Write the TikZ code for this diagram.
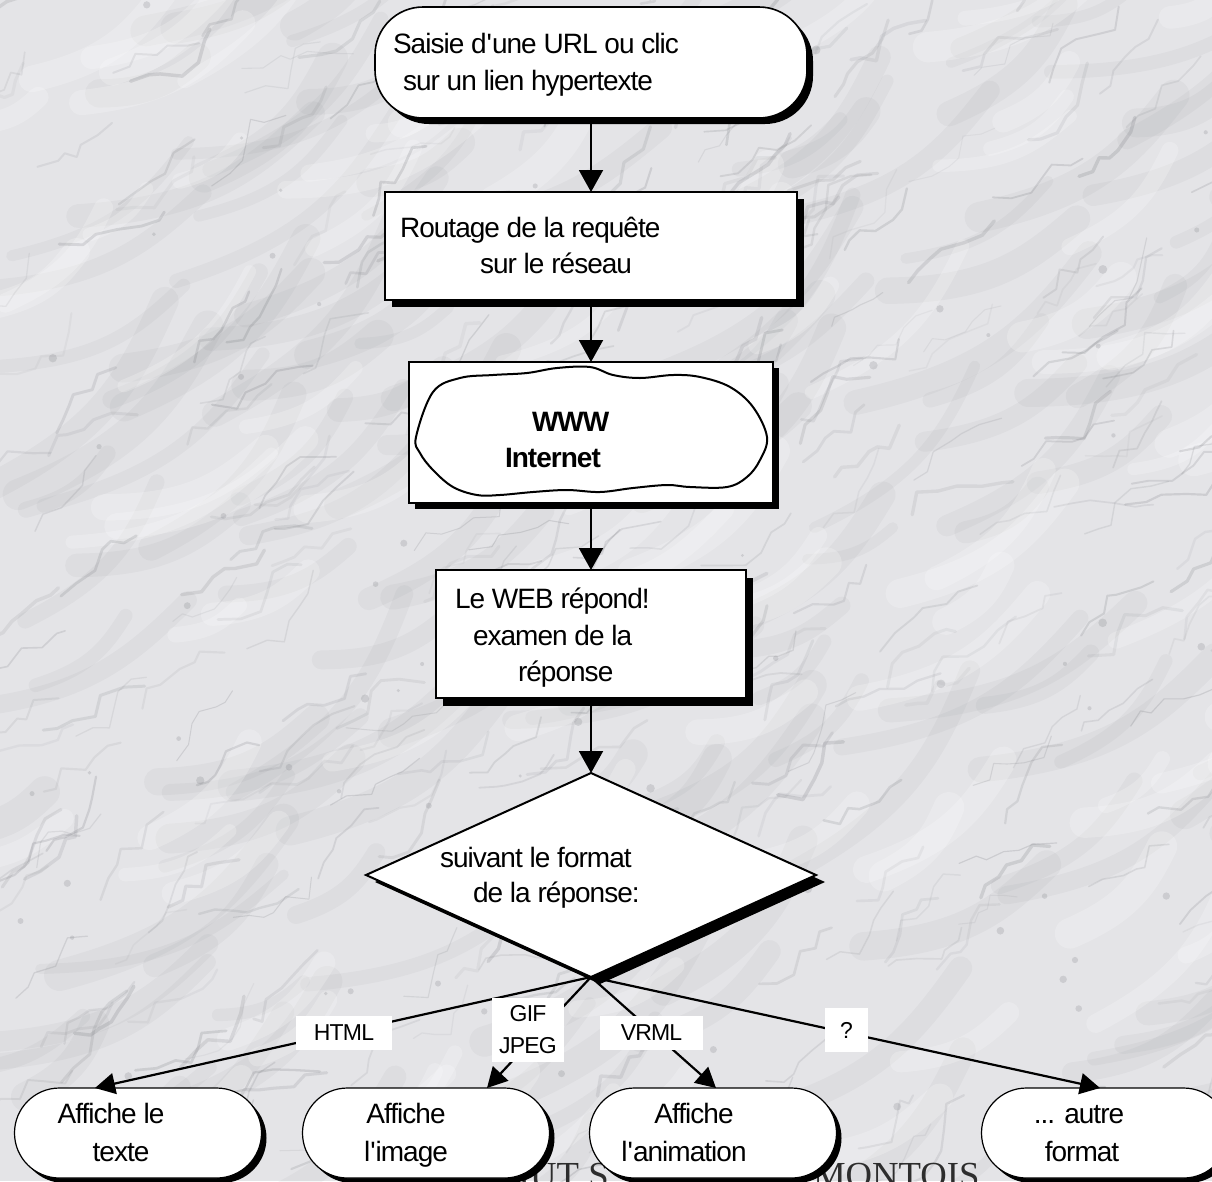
\documentclass[tikz,border=0pt]{standalone}
\usepackage{fontspec}
\setmainfont{Liberation Sans}
\newfontfamily\tightfont[LetterSpace=-3.5]{Liberation Sans}
\newfontfamily\seriffont{Liberation Serif}
\usetikzlibrary{arrows.meta,shapes.geometric,shadows}
\definecolor{marblebase}{RGB}{228,228,231}
\definecolor{veingray}{RGB}{110,112,118}
\definecolor{footgray}{RGB}{45,45,45}

\begin{document}
\begin{tikzpicture}[x=1pt,y=-1pt,
  every node/.style={outer sep=0pt},
  txt/.style={font=\tightfont\fontsize{28}{37}\selectfont, inner sep=0pt, anchor=base west},
  txtc/.style={font=\tightfont\fontsize{28}{37}\selectfont, inner sep=0pt, anchor=base},
  txtb/.style={font=\tightfont\bfseries\fontsize{28}{37}\selectfont, inner sep=0pt, anchor=base west},
  dsh/.style 2 args={drop shadow={shadow xshift=#1, shadow yshift=-#2, fill=black, opacity=1}},
  box/.style={draw, fill=white, inner sep=0pt, rectangle},
  pill/.style={draw, fill=white, inner sep=0pt, rectangle, rounded corners=45pt,
               minimum width=247pt, minimum height=90pt, line width=1.2pt, dsh={5pt}{5pt}},
  tag/.style={fill=white, inner sep=0pt, align=center,
              font=\tightfont\fontsize{23}{32}\selectfont},
  arr/.style={line width=2pt, -{Triangle[length=22pt,width=24pt]}},
  arrb/.style={line width=2.2pt, -{Triangle[length=20pt,width=21pt]}}
]
\useasboundingbox (0,0) rectangle (1212,1181);
\clip (0,0) rectangle (1212,1181);

% marble background: base tone, soft clouds, then fine veins
\fill[marblebase] (0,0) rectangle (1212,1181);
\pgfmathsetseed{4242}
\foreach \k in {1,...,160}{
  \pgfmathsetmacro\vx{rnd*1300-60}
  \pgfmathsetmacro\vy{rnd*1260-40}
  \pgfmathsetmacro\vl{80+rnd*200}
  \pgfmathsetmacro\va{-(20+rnd*30)}
  \pgfmathsetmacro\vw{10+22*rnd}
  \draw[veingray, opacity=0.06, line width=\vw pt, line cap=round]
    (\vx,\vy) .. controls +(\va+20:\vl/2) and +(\va+160:\vl/3) .. +(\va:\vl);
}
\foreach \k in {1,...,90}{
  \pgfmathsetmacro\vx{rnd*1300-60}
  \pgfmathsetmacro\vy{rnd*1260-40}
  \pgfmathsetmacro\vl{60+rnd*160}
  \pgfmathsetmacro\va{-(20+rnd*30)}
  \pgfmathsetmacro\vw{12+20*rnd}
  \draw[white, opacity=0.22, line width=\vw pt, line cap=round]
    (\vx,\vy) .. controls +(\va+20:\vl/2) and +(\va+160:\vl/3) .. +(\va:\vl);
}
\foreach \k in {1,...,330}{
  \pgfmathsetmacro\vx{rnd*1280-40}
  \pgfmathsetmacro\vy{rnd*1240-30}
  \pgfmathsetmacro\vo{0.06+0.14*rnd}
  \pgfmathsetmacro\vw{1+2.5*rnd}
  \draw[veingray, opacity=\vo, line width=\vw pt, line cap=round, line join=round]
    (\vx,\vy) \foreach \s in {1,...,6}{ -- ++({-35+90*(rnd-0.5)}:{8+18*rnd}) };
}
\foreach \k in {1,...,80}{
  \pgfmathsetmacro\vx{rnd*1212}
  \pgfmathsetmacro\vy{rnd*1181}
  \pgfmathsetmacro\vr{1.5+3*rnd}
  \fill[veingray, opacity=0.2] (\vx,\vy) circle[radius=\vr pt];
}

% footer text, partly covered by the bottom nodes
\node[font=\seriffont\fontsize{36.7}{40}\selectfont, text=footgray, anchor=base west, inner sep=0pt]
  (foota) at (518,1187) {IUT S};
\node[font=\seriffont\fontsize{36.7}{40}\selectfont, text=footgray, anchor=base west, inner sep=0pt]
  (footb) at (813,1187) {MONTOIS};

% main chain
\node[box, rounded corners=48pt, minimum width=432pt, minimum height=111pt, line width=1.6pt, dsh={6pt}{6pt}]
  (n1) at (591,62.5) {};
\node[txt] (n1a) at (393,53) {Saisie d\textquotesingle une URL ou clic};
\node[txt] (n1b) at (403,90) {sur un lien hypertexte};

\node[box, minimum width=412pt, minimum height=108pt, line width=2pt, dsh={7pt}{7pt}]
  (n2) at (591,246) {};
\node[txt] (n2a) at (400,237) {Routage de la requête};
\node[txt] (n2b) at (480,273) {sur le réseau};

\node[box, minimum width=364pt, minimum height=141pt, line width=1.5pt, dsh={6pt}{6pt}]
  (n3) at (591,432.5) {};
\draw[line width=2pt, fill=white] plot[smooth cycle, tension=0.6] coordinates {
  (416,437) (433,392) (460,378) (493,375) (527,373) (557,368) (590,367) (613,375)
  (640,378) (673,375) (700,377) (730,387) (753,407) (767,437) (760,460) (747,477)
  (727,487) (690,487) (667,485) (633,488) (600,492) (567,490) (533,492) (500,495)
  (477,495) (453,487) (433,470) (420,453)};
\node[txtb] (n3a) at (532,431) {WWW};
\node[txtb] (n3b) at (505,467) {Internet};

\node[box, minimum width=310pt, minimum height=128pt, line width=1.6pt, dsh={7pt}{8pt}]
  (n4) at (591,634) {};
\node[txt] (n4a) at (455,608) {Le WEB répond!};
\node[txt] (n4b) at (473,645) {examen de la};
\node[txt] (n4c) at (518,681) {réponse};

\node[draw, fill=white, shape=diamond, inner sep=0pt, minimum width=450pt, minimum height=204pt,
      line width=2pt, dsh={9pt}{7pt}] (dm) at (591,875) {};
\node[txt] (dma) at (440,867) {suivant le format};
\node[txt] (dmb) at (473,902) {de la réponse:};

\draw[arr] (n1.south) -- (n2.north);
\draw[arr] (n2.south) -- (n3.north);
\draw[arr] (n3.south) -- (n4.north);
\draw[arr] (n4.south) -- (dm.north);

% result nodes
\node[pill] (b1) at (138,1133) {};
\node[txtc] (b1a) at (111,1123) {Affiche le};
\node[txtc] (b1b) at (121,1161) {texte};
\node[pill] (b2) at (426,1133) {};
\node[txtc] (b2a) at (406,1123) {Affiche};
\node[txtc] (b2b) at (406,1161) {l\textquotesingle image};
\node[pill] (b3) at (713,1133) {};
\node[txtc] (b3a) at (694,1123) {Affiche};
\node[txtc] (b3b) at (684,1161) {l\textquotesingle animation};
\node[pill] (b4) at (1105,1133) {};
\node[txtc] (b4a) at (1079,1123) {... autre};
\node[txtc] (b4b) at (1082,1161) {format};

% branches by format
\draw[arrb] (dm.south) -- ([xshift=-43pt]b1.north);
\draw[arrb] (dm.south) -- ([xshift=61pt]b2.north);
\draw[arrb] (dm.south) -- ([xshift=3pt]b3.north);
\draw[arrb] (dm.south) -- ([xshift=-5pt]b4.north);

\node[tag, minimum width=96pt, minimum height=34pt] (lhtml) at (344,1033) {HTML};
\node[tag, minimum width=72pt, minimum height=64pt] (limg) at (528,1030) {GIF\\JPEG};
\node[tag, minimum width=103pt, minimum height=34pt] (lvrml) at (651.5,1033) {VRML};
\node[tag, minimum width=43pt, minimum height=44pt] (lother) at (846.5,1030) {?};
\end{tikzpicture}
\end{document}
